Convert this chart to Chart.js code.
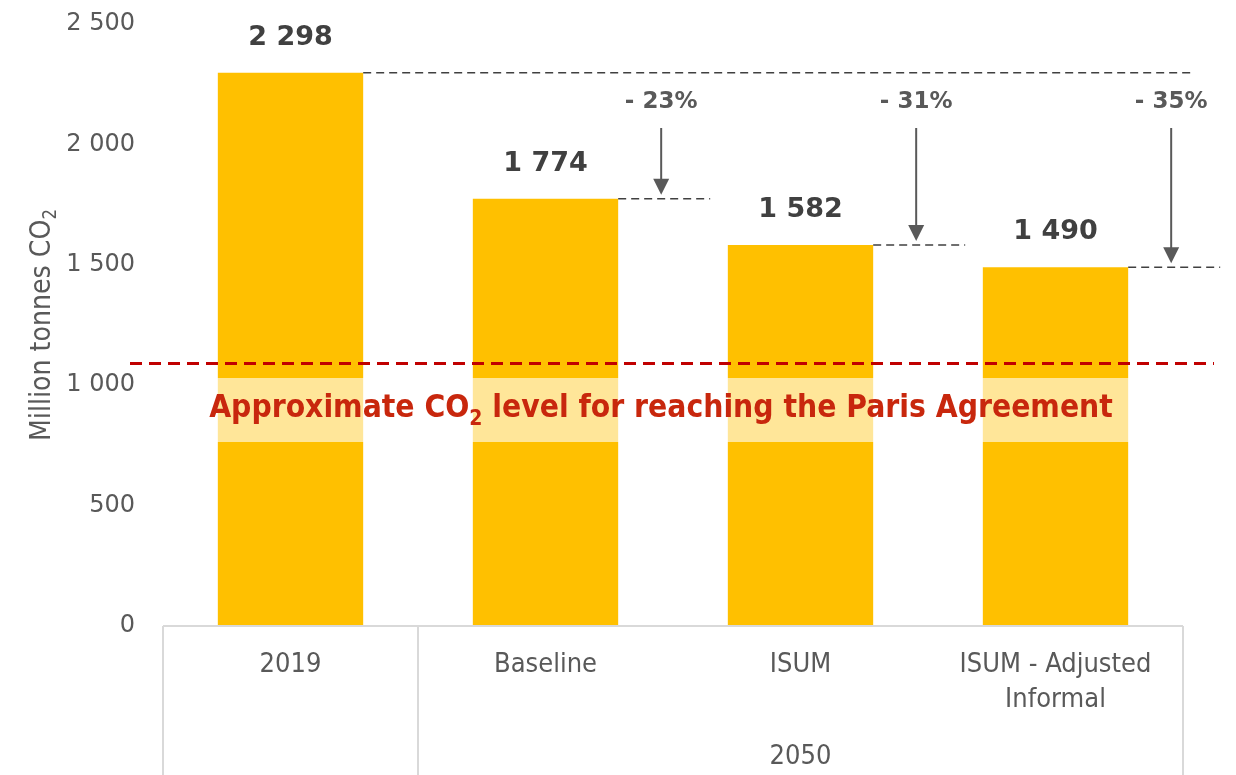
<!DOCTYPE html>
<html>
<head>
<meta charset="utf-8">
<script src="https://cdn.jsdelivr.net/npm/chart.js@4"></script>
<style>
  body { margin: 0; background: #fff; }
  canvas { display: block; }
</style>
</head>
<body>
<canvas id="co2Chart" width="1236" height="775"></canvas>
<script>
// values
const categories = [['2019'], ['Baseline'], ['ISUM'], ['ISUM - Adjusted', 'Informal']];
const groupLabel = '2050';          // spans categories 1..3
const emissions = [2298, 1774, 1582, 1490];
const yTicks = [0, 500, 1000, 1500, 2000, 2500];
const parisLevel = 1090;
const parisText = ['Approximate CO', '2', ' level for reaching the Paris Agreement'];
const axisTitle = ['Million tonnes CO', '2'];

const GREY = '#595959';
const BAR = '#FFC000';

function fmt(v) {
    return String(v).replace(/\B(?=(\d{3})+(?!\d))/g, ' ');
}

// draws main text + a subscript, centred on (cx, cy)
function subText(ctx, parts, cx, cy, font, subFont, subDrop) {
    ctx.font = font;
    const w1 = ctx.measureText(parts[0]).width;
    const w3 = parts[2] ? ctx.measureText(parts[2]).width : 0;
    ctx.font = subFont;
    const w2 = ctx.measureText(parts[1]).width;
    let x = cx - (w1 + w2 + w3) / 2;
    ctx.textAlign = 'left';
    ctx.textBaseline = 'middle';
    ctx.font = font;
    ctx.fillText(parts[0], x, cy);
    x += w1;
    ctx.font = subFont;
    ctx.fillText(parts[1], x, cy + subDrop);
    x += w2;
    if (parts[2]) {
        ctx.font = font;
        ctx.fillText(parts[2], x, cy);
    }
}

const decorations = {
    id: 'decorations',
    afterDatasetsDraw(chart) {
        const ctx = chart.ctx;
        const area = chart.chartArea;
        const x = chart.scales.x;
        const y = chart.scales.y;
        const bars = chart.getDatasetMeta(0).data;
        const H = chart.height;

        // category axis box
        const b1 = (x.getPixelForTick(0) + x.getPixelForTick(1)) / 2;
        ctx.save();
        ctx.strokeStyle = '#d9d9d9';
        ctx.lineWidth = 2;
        ctx.beginPath();
        ctx.moveTo(area.left, area.bottom); ctx.lineTo(area.right, area.bottom);
        [area.left, b1, area.right].forEach(px => {
            ctx.moveTo(px, area.bottom); ctx.lineTo(px, H);
        });
        ctx.stroke();
        ctx.fillStyle = GREY;
        ctx.font = '27px "DejaVu Sans Condensed"';
        ctx.textAlign = 'center';
        ctx.textBaseline = 'middle';
        ctx.fillText(groupLabel, (b1 + area.right) / 2, 757);

        // y axis title
        ctx.save();
        ctx.translate(42, (area.top + area.bottom) / 2);
        ctx.rotate(-Math.PI / 2);
        ctx.scale(0.97, 1);
        ctx.fillStyle = GREY;
        subText(ctx, axisTitle, 0, 0, '29px "DejaVu Sans Condensed"', '19px "DejaVu Sans Condensed"', 9);
        ctx.restore();

        // pale text box behind the Paris note
        ctx.fillStyle = 'rgba(255,255,255,0.6)';
        ctx.fillRect(200, 378, 935, 64);

        // Paris level
        const py = y.getPixelForValue(parisLevel);
        ctx.strokeStyle = '#C00000';
        ctx.lineWidth = 3;
        ctx.setLineDash([12, 7]);
        ctx.beginPath();
        ctx.moveTo(130, py); ctx.lineTo(1214, py);
        ctx.stroke();
        ctx.setLineDash([]);
        ctx.fillStyle = '#C8270D';
        subText(ctx, parisText, 661, 409, 'bold 31.5px "DejaVu Sans Condensed"', 'bold 21px "DejaVu Sans Condensed"', 11);

        // value labels, reference lines and arrows
        const base = emissions[0];
        bars.forEach((bar, i) => {
            const right = bar.x + bar.width / 2;
            ctx.fillStyle = '#404040';
            ctx.font = 'bold 27px "DejaVu Sans"';
            ctx.textAlign = 'center';
            ctx.textBaseline = 'middle';
            ctx.fillText(fmt(emissions[i]), bar.x, bar.y - 35);

            ctx.strokeStyle = '#404040';
            ctx.lineWidth = 1.5;
            ctx.setLineDash([8, 5]);
            ctx.beginPath();
            ctx.moveTo(right, bar.y);
            ctx.lineTo(i === 0 ? area.right + 12 : right + 92, bar.y);
            ctx.stroke();
            ctx.setLineDash([]);

            if (i > 0) {
                const ax = right + 43;
                const tip = bar.y - 4;
                ctx.fillStyle = GREY;
                ctx.font = 'bold 23px "DejaVu Sans"';
                ctx.fillText('- ' + Math.round((1 - emissions[i] / base) * 100) + '%', ax, 102);
                ctx.strokeStyle = GREY;
                ctx.lineWidth = 2;
                ctx.beginPath();
                ctx.moveTo(ax, 128); ctx.lineTo(ax, tip - 14);
                ctx.stroke();
                ctx.beginPath();
                ctx.moveTo(ax - 8, tip - 16); ctx.lineTo(ax + 8, tip - 16); ctx.lineTo(ax, tip);
                ctx.closePath();
                ctx.fill();
            }
        });
        ctx.restore();
    }
};

new Chart(document.getElementById('co2Chart'), {
    type: 'bar',
    data: {
        labels: categories,
        datasets: [{
            data: emissions,
            backgroundColor: BAR,
            borderWidth: 0,
            barPercentage: 0.57,
            categoryPercentage: 1
        }]
    },
    options: {
        responsive: false,
        animation: false,
        layout: { padding: { top: 24, right: 53, bottom: 0, left: 0 } },
        plugins: { legend: { display: false }, tooltip: { enabled: false } },
        scales: {
            x: {
                grid: { display: false, drawTicks: false },
                border: { display: false },
                ticks: {
                    color: GREY,
                    font: { family: 'DejaVu Sans Condensed', size: 27, lineHeight: 1.3 },
                    padding: 21,
                    maxRotation: 0,
                    autoSkip: false
                },
                afterFit: s => { s.height = 149; }
            },
            y: {
                min: 0,
                max: yTicks[yTicks.length - 1],
                afterBuildTicks: s => { s.ticks = yTicks.map(v => ({ value: v })); },
                grid: { display: false, drawTicks: false },
                border: { display: false },
                ticks: {
                    color: GREY,
                    font: { family: 'DejaVu Sans', size: 24 },
                    padding: 28,
                    callback: v => fmt(v)
                },
                afterFit: s => {
                    s.width = 163;
                    s.paddingTop = 14;
                    s.paddingBottom = 0;
                }
            }
        }
    },
    plugins: [decorations]
});
</script>
</body>
</html>
